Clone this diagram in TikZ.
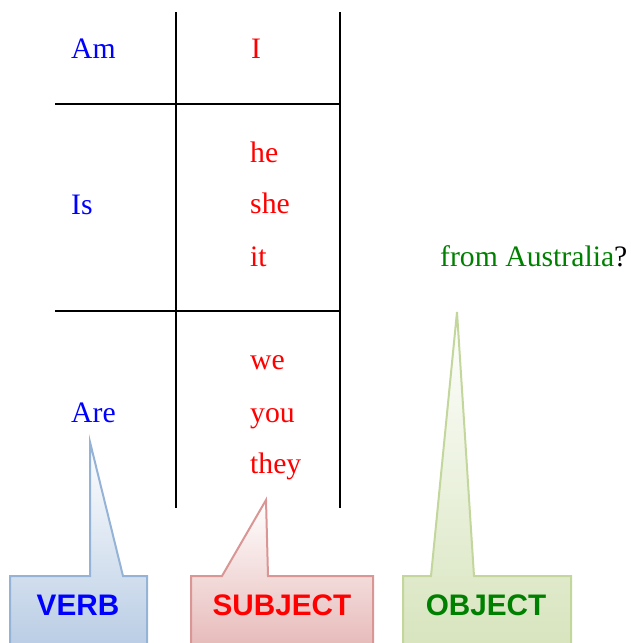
\documentclass[tikz,border=0pt]{standalone}
\usepackage{fontspec}
\setmainfont{Liberation Serif}
\newfontfamily\calloutfont{Liberation Sans}
\usepackage{xcolor}
\definecolor{verbink}{HTML}{0000FF}
\definecolor{subjink}{HTML}{FF0000}
\definecolor{objink}{HTML}{008000}
\definecolor{verbfill}{HTML}{B8CCE4}
\definecolor{verbline}{HTML}{95B3D7}
\definecolor{subjfill}{HTML}{E6B9B8}
\definecolor{subjline}{HTML}{D99694}
\definecolor{objfill}{HTML}{D7E4BD}
\definecolor{objline}{HTML}{C3D69B}

\begin{document}
\begin{tikzpicture}[
  x=1pt,
  y=-1pt,
  every node/.style={font=\fontsize{29.7}{36}\selectfont, inner sep=0pt},
  word/.style={anchor=base west},
  rule/.style={black, line width=1.5pt},
  callout/.style={line width=2pt, line join=miter},
  tag/.style={anchor=base, font=\calloutfont\bfseries\fontsize{29.7}{36}\selectfont}
]
  % ---- page frame ------------------------------------------------------
  \clip (0,0) rectangle (631,643);

  % ---- table rules -----------------------------------------------------
  \draw[rule] (176,12) -- (176,508);
  \draw[rule] (340,12) -- (340,508);
  \draw[rule] (55,104) -- (340,104);
  \draw[rule] (55,311) -- (340,311);

  % ---- verbs -----------------------------------------------------------
  \node[word, verbink] (am)  at (71,58)  {Am};
  \node[word, verbink] (is)  at (71,214) {Is};
  \node[word, verbink] (are) at (71,422) {Are};

  % ---- subjects --------------------------------------------------------
  \node[word, subjink] (i)    at (251,58)  {I};
  \node[word, subjink] (he)   at (250,162) {he};
  \node[word, subjink] (she)  at (250,213) {she};
  \node[word, subjink] (it)   at (250,266) {it};
  \node[word, subjink] (we)   at (250,369) {we};
  \node[word, subjink] (you)  at (250,422) {you};
  \node[word, subjink] (they) at (250,473) {they};

  % ---- object ----------------------------------------------------------
  \node[word] (object) at (440,266) {\textcolor{objink}{from Australia}?};

  % ---- callouts --------------------------------------------------------
  \shade[callout, draw=verbline, top color=white, bottom color=verbfill]
    (10,650) -- (10,576) -- (90,576) -- (90,442) -- (123,576)
    -- (147,576) -- (147,650);
  \shade[callout, draw=subjline, top color=white, bottom color=subjfill]
    (191,650) -- (191,576) -- (222,576) -- (266,500) -- (268,576)
    -- (373,576) -- (373,650);
  \shade[callout, draw=objline, top color=white, bottom color=objfill]
    (403,650) -- (403,576) -- (431,576) -- (457,312) -- (474,576)
    -- (571,576) -- (571,650);

  \node[tag, verbink] (verb)    at (78,615)  {VERB};
  \node[tag, subjink] (subject) at (282,615) {SUBJECT};
  \node[tag, objink]  (objtag)  at (486,615) {OBJECT};
\end{tikzpicture}
\end{document}
